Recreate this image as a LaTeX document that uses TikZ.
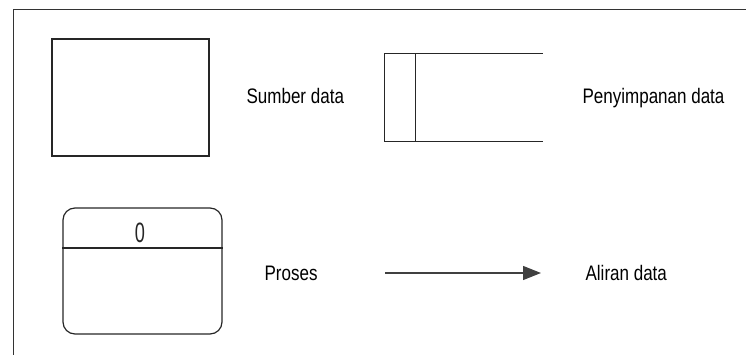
\documentclass[tikz,border=0pt]{standalone}
\usepackage{fontspec}
\setmainfont{Liberation Sans}[FakeStretch=0.81]
\usetikzlibrary{arrows.meta}

\begin{document}
\begin{tikzpicture}[x=1pt,y=-1pt,line width=1.2pt,
  shp/.style={draw=black!85,inner sep=0pt},
  lbl/.style={anchor=base west,inner sep=0pt,text=black,font=\fontsize{21}{25}\selectfont},
  flow/.style={-{Triangle[length=18pt,width=14pt]},draw=black!75}]
\useasboundingbox (0,0) rectangle (746,355);
\draw[black!80,line width=1pt] (13,355) -- (13,10) -- (746,10);
\node[shp,minimum width=157pt,minimum height=117pt] (sumber) at (130.5,97.5) {};
\node[shp,rounded corners=12pt,minimum width=159pt,minimum height=126pt] (proses) at (142.5,271) {};
\draw[black!85] ([yshift=-40.5pt]proses.north west) -- ([yshift=-40.5pt]proses.north east);
\node[inner sep=0pt,xscale=0.8,font=\fontsize{28}{28}\selectfont,black!85] (nomor) at (140,233) {0};
\node[inner sep=0pt,minimum width=157pt,minimum height=87pt] (simpan) at (463.5,97.5) {};
\draw[black!85] (simpan.north east) -- (simpan.north west) -- (simpan.south west) -- (simpan.south east);
\draw[black!85] ([xshift=31pt]simpan.north west) -- ([xshift=31pt]simpan.south west);
\coordinate (alir1) at (385,273);
\coordinate (alir2) at (541,273);
\draw[flow] (alir1) -- (alir2);
\node[lbl] (tsumber) at (246,104) {Sumber data};
\node[lbl] (tsimpan) at (582,104) {Penyimpanan data};
\node[lbl] (tproses) at (264,280) {Proses};
\node[lbl] (talir) at (585,280) {Aliran data};
\end{tikzpicture}
\end{document}
